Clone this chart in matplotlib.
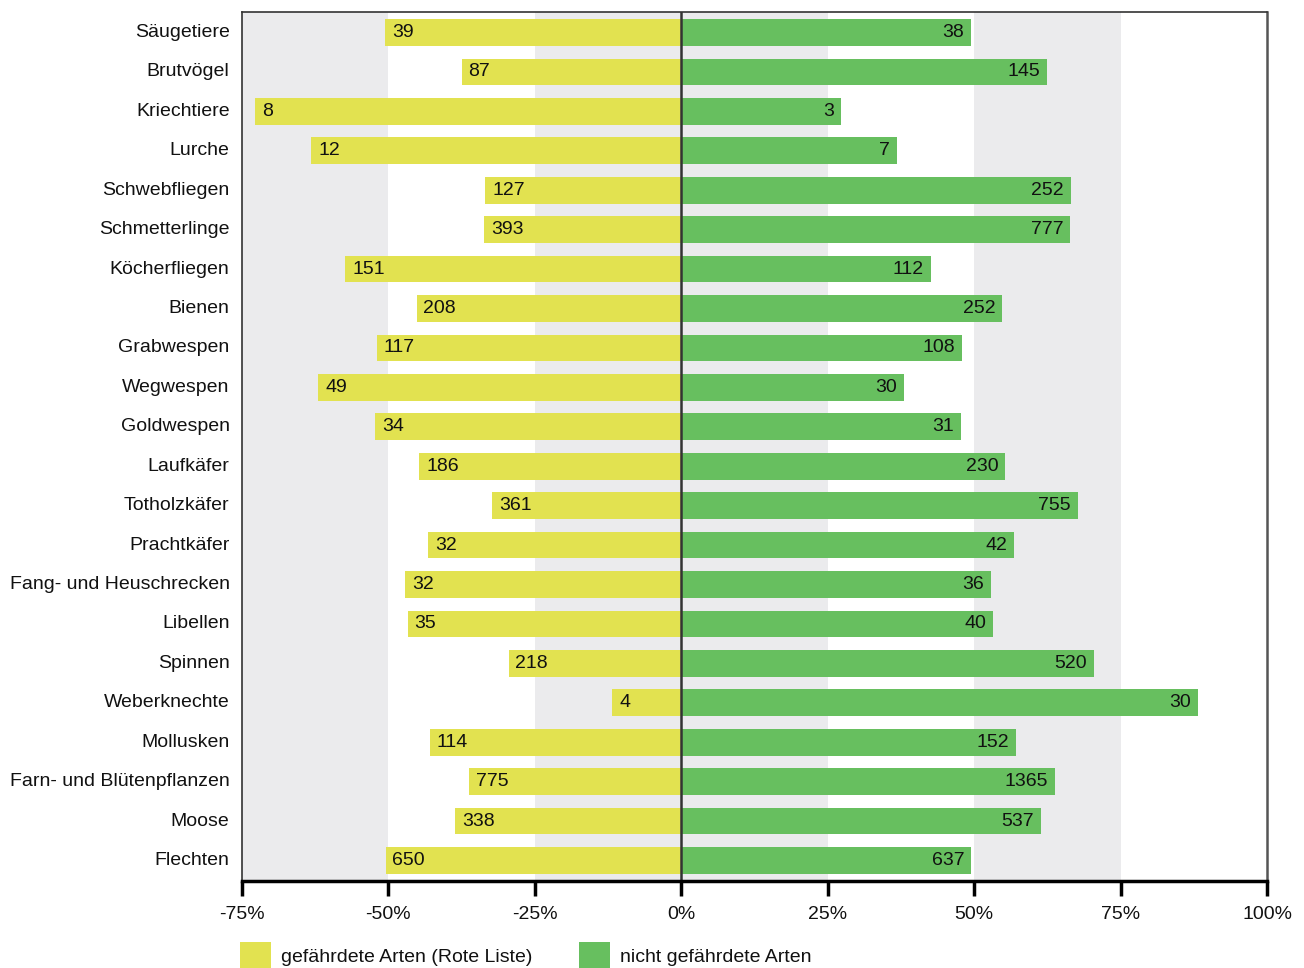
import matplotlib
matplotlib.use("Agg")
import matplotlib.pyplot as plt
from matplotlib.patches import Rectangle
import matplotlib.transforms as mtransforms
import numpy as np

plt.rcParams['font.family'] = ['Liberation Sans', 'DejaVu Sans']

categories = ["Säugetiere", "Brutvögel", "Kriechtiere", "Lurche", "Schwebfliegen",
              "Schmetterlinge", "Köcherfliegen", "Bienen", "Grabwespen", "Wegwespen",
              "Goldwespen", "Laufkäfer", "Totholzkäfer", "Prachtkäfer",
              "Fang- und Heuschrecken", "Libellen", "Spinnen", "Weberknechte",
              "Mollusken", "Farn- und Blütenpflanzen", "Moose", "Flechten"]
count_threatened = [39, 87, 8, 12, 127, 393, 151, 208, 117, 49, 34, 186, 361, 32,
                    32, 35, 218, 4, 114, 775, 338, 650]
count_safe = [38, 145, 3, 7, 252, 777, 112, 252, 108, 30, 31, 230, 755, 42,
              36, 40, 520, 30, 152, 1365, 537, 637]
pct_threatened = [50.6, 37.5, 72.7, 63.2, 33.5, 33.6, 57.4, 45.2, 52.0, 62.0,
                  52.3, 44.7, 32.3, 43.2, 47.1, 46.7, 29.5, 11.8, 42.9, 36.2, 38.6, 50.5]
pct_safe = [49.4, 62.5, 27.3, 36.8, 66.5, 66.4, 42.6, 54.8, 48.0, 38.0,
            47.7, 55.3, 67.7, 56.8, 52.9, 53.3, 70.5, 88.2, 57.1, 63.8, 61.4, 49.5]
xticks = [-75, -50, -25, 0, 25, 50, 75, 100]
xtick_labels = ["-75%", "-50%", "-25%", "0%", "25%", "50%", "75%", "100%"]
legend_labels = ["gefährdete Arten (Rote Liste)", "nicht gefährdete Arten"]

YELLOW = "#e2e250"
GREEN = "#67bf5f"
BAND = "#ebebed"

W, H = 1304, 968
fig = plt.figure(figsize=(W / 100, H / 100), dpi=100)
ax = fig.add_axes([242 / W, 1 - 881 / H, (1267 - 242) / W, (881 - 12) / H])

# background bands
for a, b in [(-75, -50), (-25, 25), (50, 75)]:
    ax.axvspan(a, b, color=BAND, lw=0, zorder=0)

y = np.arange(len(categories))
hgt = 0.68
ax.barh(y, [-p for p in pct_threatened], height=hgt, color=YELLOW, zorder=2)
ax.barh(y, pct_safe, height=hgt, color=GREEN, zorder=2)

fs = 14
for i in range(len(categories)):
    ax.annotate(str(count_threatened[i]), (-pct_threatened[i], y[i]),
                xytext=(5, 0), textcoords="offset points",
                ha="left", va="center", fontsize=fs, color="#111111", zorder=3)
    ax.annotate(str(count_safe[i]), (pct_safe[i], y[i]),
                xytext=(-5, 0), textcoords="offset points",
                ha="right", va="center", fontsize=fs, color="#111111", zorder=3)

ax.axvline(0, color="#333333", lw=1.8, zorder=4)

ax.set_xlim(-75, 100)
ax.set_ylim(len(categories) - 0.48, -0.52)
ax.set_yticks(y)
ax.set_yticklabels(categories, fontsize=fs, color="#111111")
ax.tick_params(axis="y", length=0, pad=9)
shift = mtransforms.ScaledTranslation(0, 2 / 100, fig.dpi_scale_trans)
for lab in ax.get_yticklabels():
    lab.set_transform(lab.get_transform() + shift)
ax.set_xticks(xticks)
ax.set_xticklabels(xtick_labels, fontsize=fs, color="#111111")
ax.tick_params(axis="x", length=11, width=2.5, direction="out", pad=7, color="black")

for s in ["top", "left"]:
    ax.spines[s].set_color("#333333")
    ax.spines[s].set_linewidth(1.2)
ax.spines["right"].set_color("#555555")
ax.spines["right"].set_linewidth(1.8)
ax.spines["bottom"].set_color("black")
ax.spines["bottom"].set_linewidth(2.5)
ax.spines["bottom"].set_zorder(5)

# legend
for x0, col, lab in [(240, YELLOW, legend_labels[0]), (579, GREEN, legend_labels[1])]:
    fig.add_artist(Rectangle((x0 / W, 0), 31 / W, 26 / H, transform=fig.transFigure,
                             color=col, lw=0))
    fig.text((x0 + 41) / W, 1 - 958 / H, lab, fontsize=fs, va="center", ha="left",
             color="#111111")

fig.savefig("out.png", dpi=100)
